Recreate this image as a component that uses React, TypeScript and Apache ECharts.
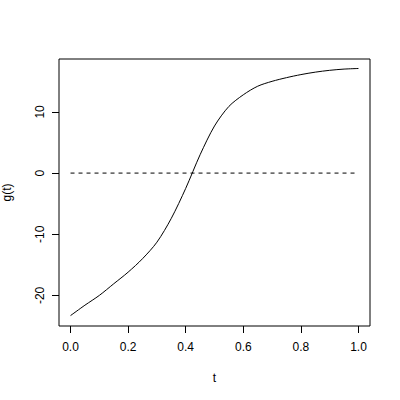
import React, { useEffect, useRef } from "react";
import * as echarts from "echarts";

const tValues = [0, 0.05, 0.1, 0.15, 0.2, 0.25, 0.3, 0.35, 0.4, 0.45, 0.5, 0.55, 0.6, 0.65, 0.7, 0.75, 0.8, 0.85, 0.9, 0.95, 1.0];
const gValues = [-23.3, -21.6, -20.0, -18.1, -16.2, -14.0, -11.3, -7.4, -2.5, 3.0, 7.7, 10.9, 12.8, 14.2, 15.0, 15.6, 16.1, 16.5, 16.8, 17.0, 17.1];
const zeroLine = [[0, 0], [1, 0]];
const xTicks = [0, 0.2, 0.4, 0.6, 0.8, 1.0];
const yTicks = [-20, -10, 0, 10];

export default function App() {
  const ref = useRef<HTMLDivElement>(null);
  useEffect(() => {
    if (!ref.current) return;
    const chart = echarts.init(ref.current, null, { renderer: "svg" });
    const font = "Liberation Sans, Arial, sans-serif";
    chart.setOption({
      animation: false,
      backgroundColor: "#ffffff",
      grid: {
        left: 59,
        top: 59,
        width: 311,
        height: 267,
        outerBoundsMode: "none",
        containLabel: false,
        show: true,
        borderColor: "#000",
        borderWidth: 1,
        backgroundColor: "transparent",
      },
      xAxis: {
        type: "value",
        min: -0.04,
        max: 1.04,
        name: "t",
        nameLocation: "middle",
        nameGap: 46,
        nameTextStyle: { color: "#000", fontSize: 12, fontFamily: font },
        axisLine: { show: false, onZero: false },
        splitLine: { show: false },
        axisTick: { show: true, length: 7, inside: false, customValues: xTicks, lineStyle: { color: "#000" } },
        axisLabel: {
          customValues: xTicks,
          margin: 15,
          color: "#000",
          fontSize: 12,
          fontFamily: font,
          formatter: (v: number) => v.toFixed(1),
        },
      },
      yAxis: {
        type: "value",
        min: -25.0,
        max: 18.65,
        name: "g(t)",
        nameLocation: "middle",
        nameGap: 46,
        nameRotate: 90,
        nameTextStyle: { color: "#000", fontSize: 12, fontFamily: font },
        axisLine: { show: false, onZero: false },
        splitLine: { show: false },
        axisTick: { show: true, length: 7, inside: false, customValues: yTicks, lineStyle: { color: "#000" } },
        axisLabel: {
          customValues: yTicks,
          rotate: 90,
          margin: 13,
          color: "#000",
          fontSize: 12,
          fontFamily: font,
        },
      },
      series: [
        {
          type: "line",
          data: tValues.map((t, i) => [t, gValues[i]]),
          smooth: 0.3,
          showSymbol: false,
          lineStyle: { color: "#000", width: 1 },
        },
        {
          type: "line",
          data: zeroLine,
          showSymbol: false,
          lineStyle: { color: "#000", width: 1, type: [4, 4] },
        },
      ],
    });
    return () => chart.dispose();
  }, []);
  return <div ref={ref} style={{ position: "absolute", left: 0, top: 0, width: 400, height: 400 }} />;
}
